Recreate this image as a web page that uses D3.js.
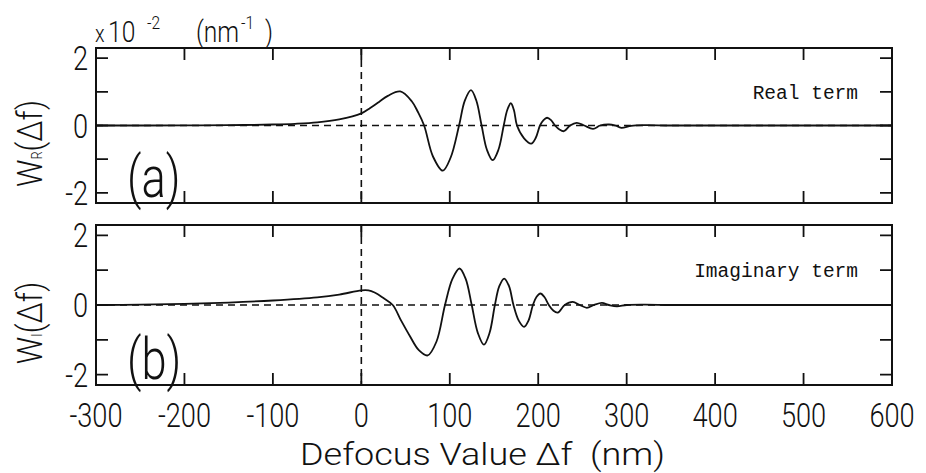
<!DOCTYPE html>
<html>
<head>
<meta charset="utf-8">
<script src="https://cdn.jsdelivr.net/npm/d3@7"></script>
<style>
body { margin: 0; background: #fff; }
text { font-family: Roboto, "DejaVu Sans", sans-serif; font-weight: 300; fill: #111; }
.mono { font-family: "Liberation Mono", "DejaVu Sans Mono", monospace; font-weight: normal; }
</style>
</head>
<body>
<div id="chart-area"></div>
<script>
/*
*    defocus chart
*/
var chartWidth = 926;
var chartHeight = 473;
var xLeft = 96, xRight = 892;
var panelA = {top: 48, bottom: 203};
var panelB = {top: 225, bottom: 385};
var tickLen = 12;

var xTicks = [-300, -200, -100, 0, 100, 200, 300, 400, 500, 600];
var yTicks = [-2, -1, 0, 1, 2];
var yLabelTicks = [-2, 0, 2];

// real term
var realDefocus = [-300, -250, -200, -150, -100, -75, -50, -25, 0, 10, 20, 30, 44, 57, 64, 71, 81, 92, 101, 110.5,
    117, 124, 130, 136, 142, 148.5, 155, 161, 165, 169, 172.5, 176, 184, 192, 197, 202, 206, 210, 214.5, 219,
    224, 229, 236, 243.5, 252, 262, 270, 280, 287, 294, 305, 320, 350, 400, 500, 600];
var realValues = [0, 0, 0.005, 0.01, 0.03, 0.05, 0.09, 0.18, 0.36, 0.52, 0.7, 0.88, 1.01, 0.72, 0.4, 0, -0.92, -1.34, -0.95, 0,
    0.74, 1.05, 0.74, 0, -0.72, -1.03, -0.72, 0, 0.46, 0.66, 0.46, 0, -0.38, -0.54, -0.38, 0, 0.16, 0.23, 0.16, 0,
    -0.12, -0.17, 0, 0.08, 0, -0.1, 0, 0.03, 0, -0.07, -0.01, 0.01, 0, 0, 0, 0];

// imaginary term
var imagDefocus = [-300, -250, -200, -150, -100, -50, -25, 0, 8, 15, 25, 35.5, 45, 55, 65, 75, 85, 94.6, 103, 111,
    118, 124.8, 131.7, 138.6, 145, 151, 156, 161.5, 167, 172, 178, 184, 189, 194, 198, 202.5, 207, 212,
    217, 222, 230, 239, 247, 255, 263, 272, 280, 289, 300, 320, 350, 400, 500, 600];
var imagValues = [0, 0.01, 0.03, 0.07, 0.13, 0.22, 0.3, 0.42, 0.42, 0.36, 0.2, 0, -0.45, -0.9, -1.3, -1.45, -1.05, 0, 0.75, 1.05,
    0.75, 0, -0.8, -1.14, -0.8, 0, 0.54, 0.76, 0.54, 0, -0.45, -0.63, -0.45, 0, 0.23, 0.33, 0.23, 0,
    -0.16, -0.22, 0, 0.09, 0, -0.08, 0, 0.06, 0, -0.04, 0, 0.01, 0, 0, 0, 0];

var svg = d3.select("#chart-area").append("svg").attr("width", chartWidth).attr("height", chartHeight);

var x = d3.scaleLinear().domain([-300, 600]).range([xLeft, xRight]);

function drawPanel(p, xs, ys, term, termY, letter, sub, showLabels) {
    var y = d3.scaleLinear().domain([-2.3, 2.3]).range([p.bottom, p.top]);
    var g = svg.append("g");

    g.append("line").attr("x1", x(-300)).attr("x2", x(600)).attr("y1", y(0)).attr("y2", y(0))
        .attr("stroke", "#111").attr("stroke-width", 1.6).attr("stroke-dasharray", "7,5");
    g.append("line").attr("x1", x(0)).attr("x2", x(0)).attr("y1", p.top).attr("y2", p.bottom)
        .attr("stroke", "#111").attr("stroke-width", 1.6).attr("stroke-dasharray", "7,5");

    var line = d3.line().x(d => x(d[0])).y(d => y(d[1])).curve(d3.curveCatmullRom.alpha(0.5));
    g.append("path").datum(d3.zip(xs, ys)).attr("d", line)
        .attr("fill", "none").attr("stroke", "#111").attr("stroke-width", 1.8);

    g.append("rect").attr("x", xLeft).attr("y", p.top).attr("width", xRight - xLeft).attr("height", p.bottom - p.top)
        .attr("fill", "none").attr("stroke", "#111").attr("stroke-width", 2);

    // inward ticks on all four sides, drawn as one path
    var inner = xTicks.slice(1, -1);
    var tickPath = "";
    inner.forEach(d => {
        tickPath += "M" + x(d) + "," + p.top + "v" + tickLen;
        tickPath += "M" + x(d) + "," + p.bottom + "v" + (-tickLen);
    });
    yTicks.forEach(d => {
        tickPath += "M" + xLeft + "," + y(d) + "h" + tickLen;
        tickPath += "M" + xRight + "," + y(d) + "h" + (-tickLen);
    });
    g.append("path").attr("d", tickPath).attr("fill", "none").attr("stroke", "#111").attr("stroke-width", 1.8);

    g.selectAll(".ylab").data(yLabelTicks).enter().append("text")
        .attr("transform", d => "translate(" + (xLeft - 8) + "," + (y(d) + 12) + ") scale(0.8,1)")
        .attr("text-anchor", "end").attr("font-size", 34).text(d => String(d));

    if (showLabels) {
        g.selectAll(".xlab").data(xTicks).enter().append("text")
            .attr("transform", d => "translate(" + x(d) + "," + (p.bottom + 42) + ") scale(0.8,1)")
            .attr("text-anchor", "middle").attr("font-size", 34).text(d => String(d));
    }

    g.append("text").attr("class", "mono").attr("x", 858).attr("y", termY).attr("text-anchor", "end")
        .attr("font-size", 19.5).text(term);

    g.append("text").attr("transform", "translate(127," + (p.bottom - 6) + ") scale(0.78,1)")
        .attr("font-size", 58).text("(" + letter + ")");

    var yl = g.append("text").attr("text-anchor", "middle")
        .attr("transform", "translate(42," + ((p.top + p.bottom) / 2 + 18) + ") rotate(-90) scale(0.85,1)");
    yl.append("tspan").attr("font-size", 36).text("W");
    yl.append("tspan").attr("font-size", 15).text(sub);
    yl.append("tspan").attr("font-size", 36).text("(\u0394f)");
}

drawPanel(panelA, realDefocus, realValues, "Real term", 99, "a", "R", false);
drawPanel(panelB, imagDefocus, imagValues, "Imaginary term", 277, "b", "I", true);

// units header
var hs = 0.82;
var header = svg.append("text").attr("transform", "translate(95,42) scale(" + hs + ",1)").attr("font-size", 30);
header.append("tspan").attr("x", 0).attr("font-size", 24).text("x");
header.append("tspan").attr("x", 13 / hs).text("10");
header.append("tspan").attr("x", 52 / hs).attr("dy", -13).attr("font-size", 19).text("-2");
header.append("tspan").attr("x", 101 / hs).attr("dy", 13).text("(nm");
header.append("tspan").attr("x", 146 / hs).attr("dy", -13).attr("font-size", 19).text("-1");
header.append("tspan").attr("x", 170 / hs).attr("dy", 13).text(")");

// x axis title
svg.append("text").attr("x", 300).attr("y", 465).attr("font-size", 32)
    .attr("textLength", 365).attr("lengthAdjust", "spacingAndGlyphs")
    .style("white-space", "pre").text("Defocus Value \u0394f  (nm)");
</script>
</body>
</html>
